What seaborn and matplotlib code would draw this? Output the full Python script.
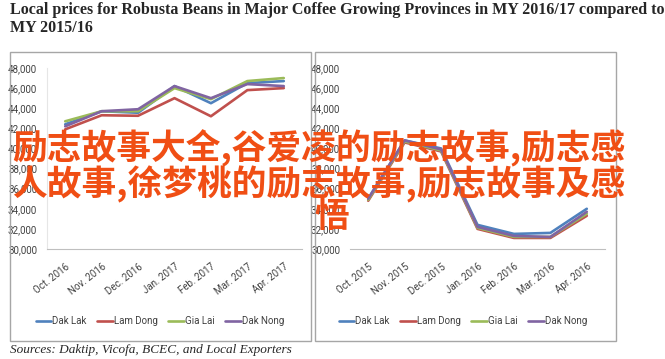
import matplotlib
matplotlib.use('Agg')
from matplotlib import pyplot as plt
from matplotlib.patches import Rectangle
from matplotlib.ticker import FuncFormatter
import seaborn as sns
import pandas as pd

# monthly local prices (VND/kg)
provinces = ['Dak Lak', 'Lam Dong', 'Gia Lai', 'Dak Nong']
colors = ['#4f81bd', '#c0504d', '#9bbb59', '#8064a2']

months_1617 = ['Oct. 2016', 'Nov. 2016', 'Dec. 2016', 'Jan. 2017', 'Feb. 2017', 'Mar. 2017', 'Apr. 2017']
dak_lak_1617 = [42400, 43700, 43550, 46200, 44500, 46500, 46700]
lam_dong_1617 = [41900, 43300, 43250, 45000, 43200, 45800, 46000]
gia_lai_1617 = [42700, 43700, 43700, 46000, 44900, 46700, 47000]
dak_nong_1617 = [42200, 43700, 43900, 46200, 45000, 46400, 46200]

months_1516 = ['Oct. 2015', 'Nov. 2015', 'Dec. 2015', 'Jan. 2016', 'Feb. 2016', 'Mar. 2016', 'Apr. 2016']
dak_lak_1516 = [35000, 40800, 40000, 32400, 31500, 31600, 34000]
lam_dong_1516 = [34800, 40600, 39700, 32000, 31100, 31100, 33300]
gia_lai_1516 = [34900, 40700, 39800, 32100, 31200, 31200, 33500]
dak_nong_1516 = [35000, 40800, 39900, 32200, 31300, 31200, 33700]

y_ticks = list(range(30000, 48001, 2000))

title = ('Local prices for Robusta Beans in Major Coffee Growing Provinces in MY 2016/17 compared to\n'
         'MY 2015/16')
source = 'Sources: Daktip, Vicofa, BCEC, and Local Exporters'
overlay_lines = ['励志故事大全,谷爱凌的励志故事,励志感',
                 '人故事,徐梦桃的励志故事,励志故事及感',
                 '悟']


def to_long(months, series):
    rows = []
    for prov, vals in zip(provinces, series):
        for m, v in zip(months, vals):
            rows.append({'Month': m, 'Price': v, 'Province': prov})
    return pd.DataFrame(rows)


df_1617 = to_long(months_1617, [dak_lak_1617, lam_dong_1617, gia_lai_1617, dak_nong_1617])
df_1516 = to_long(months_1516, [dak_lak_1516, lam_dong_1516, gia_lai_1516, dak_nong_1516])

sns.set_style('white')
plt.rcParams['font.family'] = ['Roboto', 'DejaVu Sans']

W, H = 665, 359
fig = plt.figure(figsize=(W / 100, H / 100), dpi=100)


def fx(px):
    return px / W


def fy(py):
    return 1 - py / H


# panel frames
for x0, x1 in [(10, 311), (315, 616)]:
    fig.patches.append(Rectangle((fx(x0), fy(341)), fx(x1 - x0), (341 - 52) / H,
                                 transform=fig.transFigure, fill=False,
                                 edgecolor='#a6a6a6', linewidth=1))


def draw_panel(left_px, data, left_spine):
    ax = fig.add_axes([fx(left_px), fy(249), fx(255), 181 / H])
    sns.lineplot(data=data, x='Month', y='Price', hue='Province', hue_order=provinces,
                 palette=colors, linewidth=1.9, sort=False, ax=ax)
    ax.set_xlim(-0.5, 6.5)
    ax.set_ylim(30000, 48000)
    ax.set_yticks(y_ticks)
    ax.yaxis.set_major_formatter(FuncFormatter(lambda v, p: f'{int(v):,}'))
    ax.tick_params(axis='both', length=0, labelsize=7, colors='#404040')
    ax.tick_params(axis='y', pad=7)
    ax.tick_params(axis='x', pad=9)
    for lab in ax.get_xticklabels():
        lab.set_rotation(38)
        lab.set_ha('right')
        lab.set_rotation_mode('anchor')
    ax.set_xlabel('')
    ax.set_ylabel('')
    ax.patch.set_alpha(0)
    for s in ['top', 'right']:
        ax.spines[s].set_visible(False)
    ax.spines['bottom'].set_color('#bfbfbf')
    ax.spines['left'].set_color('#e6e6e6')
    ax.spines['left'].set_visible(left_spine)
    ax.legend(loc='center', bbox_to_anchor=(fx(left_px + 113), fy(321)),
              bbox_transform=fig.transFigure, ncol=4, frameon=False,
              fontsize=7, handlelength=1.6, handletextpad=0.1, columnspacing=1.1,
              labelcolor='#404040')
    return ax


draw_panel(47, df_1617, True)
draw_panel(350, df_1516, False)

fig.text(fx(10), fy(2), title, ha='left', va='top', fontsize=11.5, fontweight='bold',
         family=['Liberation Serif', 'DejaVu Serif'], linespacing=1.15)
fig.text(fx(10), fy(350), source, ha='left', va='center', fontsize=9.5, style='italic',
         family=['Liberation Serif', 'DejaVu Serif'])

# overlay text on top of the charts
for (cx, cy), line in zip([(319, 148), (319, 184), (332, 217)], overlay_lines):
    fig.text(fx(cx), fy(cy), line, ha='center', va='center', fontsize=25, fontweight='bold',
             color='#f04e14', family=['Noto Sans CJK SC', 'DejaVu Sans'], zorder=10)

fig.savefig('out.png', dpi=100)
